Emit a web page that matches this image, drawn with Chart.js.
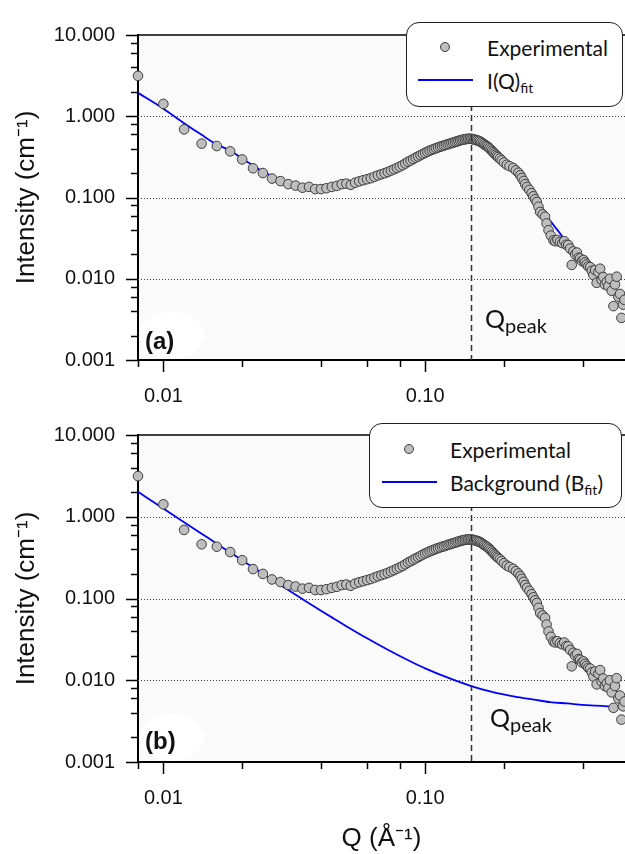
<!DOCTYPE html>
<html>
<head>
<meta charset="utf-8">
<script src="https://cdn.jsdelivr.net/npm/chart.js@4.4.0/dist/chart.umd.min.js"></script>
<style>
body{margin:0;background:#fff;}
#wrap{position:relative;width:625px;height:854px;overflow:hidden;}
canvas{position:absolute;left:0;}
.leg{position:absolute;box-sizing:border-box;border:1.5px solid #1e1e1e;border-radius:13px;background:#fff;font-family:Lato,sans-serif;font-size:21px;color:#111;}
.leg .dot{position:absolute;width:10px;height:10px;box-sizing:border-box;border-radius:50%;background:#bebebe;border:1px solid #3c3c3c;}
.leg .ln{position:absolute;height:2px;margin-top:-1px;background:#0000ff;}
.leg .txt{position:absolute;line-height:1;transform:translateY(-50%);white-space:nowrap;}
.leg sub{font-size:14px;vertical-align:-4px;line-height:0;}
.qp{position:absolute;font-family:Lato,sans-serif;font-size:25px;line-height:1;color:#111;white-space:nowrap;}
.qp sub{font-size:20px;vertical-align:-5px;line-height:0;}
.plab{position:absolute;font-family:'Liberation Sans',Arial,sans-serif;font-weight:bold;font-size:24px;line-height:1;color:#111;}
.blob{position:absolute;background:#fff;border-radius:50%;}
</style>
</head>
<body>
<div id="wrap">
  <canvas id="chartA" width="625" height="420" style="top:0"></canvas>
  <canvas id="chartB" width="625" height="454" style="top:400px"></canvas>

  <div class="blob" style="left:140px;top:312px;width:64px;height:47px"></div>
  <div class="plab" style="left:145px;top:329px">(a)</div>
  <div class="qp" style="left:485px;top:306px">Q<sub>peak</sub></div>
  <div class="leg" style="left:406px;top:22px;width:217px;height:85px">
    <span class="dot" style="left:33px;top:19px"></span>
    <span class="txt" style="left:80px;top:24px">Experimental</span>
    <span class="ln" style="left:11px;top:57px;width:55px"></span>
    <span class="txt" style="left:80px;top:57px">I(Q)<sub>fit</sub></span>
  </div>

  <div class="blob" style="left:140px;top:714px;width:64px;height:47px"></div>
  <div class="plab" style="left:145px;top:729px">(b)</div>
  <div class="qp" style="left:490px;top:705px">Q<sub>peak</sub></div>
  <div class="leg" style="left:369px;top:423px;width:253px;height:85px">
    <span class="dot" style="left:34px;top:20px"></span>
    <span class="txt" style="left:80px;top:25px">Experimental</span>
    <span class="ln" style="left:12px;top:58px;width:55px"></span>
    <span class="txt" style="left:80px;top:58px">Background (B<sub>fit</sub>)</span>
  </div>
</div>
<script>
// experimental SAXS points (same in both panels)
const qExp = [
  0.008, 0.010, 0.012, 0.014, 0.016, 0.018, 0.020, 0.022, 0.024, 0.026,
  0.028, 0.030, 0.032, 0.034, 0.036, 0.038, 0.040, 0.042, 0.044, 0.046,
  0.048, 0.050, 0.052, 0.054, 0.056, 0.058, 0.060, 0.062, 0.064, 0.066,
  0.068, 0.070, 0.072, 0.074, 0.076, 0.078, 0.080, 0.082, 0.084, 0.086,
  0.088, 0.090, 0.092, 0.094, 0.096, 0.098, 0.100, 0.102, 0.104, 0.106,
  0.108, 0.110, 0.112, 0.114, 0.116, 0.118, 0.120, 0.122, 0.124, 0.126,
  0.128, 0.130, 0.132, 0.134, 0.136, 0.138, 0.140, 0.142, 0.144, 0.146,
  0.148, 0.150, 0.152, 0.154, 0.156, 0.158, 0.160, 0.162, 0.164, 0.166,
  0.168, 0.170, 0.172, 0.174, 0.176, 0.178, 0.180, 0.182, 0.184, 0.186,
  0.188, 0.190, 0.193, 0.196, 0.200, 0.205, 0.210, 0.217, 0.222, 0.227,
  0.231, 0.234, 0.238, 0.241, 0.245, 0.250, 0.255, 0.259, 0.263, 0.267,
  0.271, 0.275, 0.281, 0.287, 0.291, 0.296, 0.302, 0.309, 0.314, 0.320,
  0.327, 0.334, 0.340, 0.346, 0.352, 0.358, 0.363, 0.368, 0.374, 0.380,
  0.386, 0.391, 0.397, 0.403, 0.408, 0.414, 0.420, 0.427, 0.433, 0.439,
  0.446, 0.452, 0.459, 0.466, 0.472, 0.479, 0.486, 0.494, 0.501, 0.508,
  0.516, 0.524, 0.531, 0.539, 0.547, 0.555, 0.562, 0.570, 0.577
];
const iExp = [
  3.14, 1.42, 0.69, 0.46, 0.43, 0.37, 0.294, 0.229, 0.200, 0.171,
  0.159, 0.146, 0.140, 0.132, 0.135, 0.127, 0.127, 0.130, 0.135, 0.139,
  0.146, 0.148, 0.143, 0.152, 0.158, 0.163, 0.168, 0.173, 0.180, 0.187,
  0.193, 0.199, 0.206, 0.214, 0.222, 0.231, 0.240, 0.250, 0.262, 0.275,
  0.285, 0.297, 0.309, 0.320, 0.332, 0.344, 0.355, 0.366, 0.377, 0.386,
  0.395, 0.404, 0.413, 0.421, 0.429, 0.436, 0.444, 0.452, 0.459, 0.467,
  0.474, 0.482, 0.489, 0.497, 0.505, 0.511, 0.517, 0.521, 0.525, 0.527,
  0.528, 0.527, 0.523, 0.517, 0.511, 0.505, 0.498, 0.490, 0.478, 0.465,
  0.452, 0.440, 0.430, 0.418, 0.404, 0.390, 0.375, 0.361, 0.348, 0.336,
  0.325, 0.314, 0.302, 0.287, 0.270, 0.253, 0.243, 0.231, 0.216, 0.202,
  0.188, 0.174, 0.160, 0.146, 0.135, 0.124, 0.113, 0.1035, 0.095, 0.088,
  0.077, 0.0664, 0.062, 0.058, 0.048, 0.0395, 0.034, 0.0297, 0.0290, 0.0300,
  0.0284, 0.0275, 0.0290, 0.0262, 0.026, 0.0235, 0.0148, 0.0217, 0.0200, 0.0210,
  0.0182, 0.0178, 0.0165, 0.0170, 0.0159, 0.0150, 0.0142, 0.0139, 0.0125, 0.0111,
  0.0128, 0.0089, 0.0120, 0.0133, 0.0097, 0.0105, 0.0085, 0.0092, 0.0081, 0.0100,
  0.0071, 0.0046, 0.0085, 0.0106, 0.0060, 0.0065, 0.0033, 0.0048, 0.0055
];

// I(Q) fit, panel (a)
const qFit = [0.008, 0.010, 0.012, 0.014, 0.016, 0.018, 0.020, 0.022, 0.025, 0.028,
  0.032, 0.036, 0.040, 0.045, 0.050, 0.055, 0.060, 0.070, 0.080, 0.090,
  0.100, 0.110, 0.120, 0.130, 0.140, 0.150, 0.160, 0.170, 0.180, 0.190,
  0.200, 0.220, 0.240, 0.260, 0.280, 0.300, 0.330, 0.360, 0.400, 0.450,
  0.500, 0.550, 0.580];
const iFit = [1.94, 1.24, 0.82, 0.59, 0.45, 0.378, 0.30, 0.248, 0.194, 0.165,
  0.143, 0.132, 0.128, 0.133, 0.143, 0.155, 0.168, 0.199, 0.240, 0.297,
  0.355, 0.404, 0.444, 0.482, 0.517, 0.525, 0.495, 0.440, 0.375, 0.314,
  0.265, 0.205, 0.150, 0.100, 0.072, 0.052, 0.035, 0.023, 0.0155, 0.0105,
  0.0078, 0.0060, 0.0054];

// background fit, panel (b)
const qBg = [0.008, 0.010, 0.012, 0.014, 0.016, 0.018, 0.020, 0.022, 0.025, 0.030,
  0.035, 0.040, 0.045, 0.050, 0.060, 0.070, 0.080, 0.090, 0.100, 0.120,
  0.150, 0.180, 0.220, 0.260, 0.300, 0.350, 0.400, 0.450, 0.500, 0.580];
const iBg = [2.02, 1.26, 0.857, 0.62, 0.468, 0.366, 0.293, 0.240, 0.184, 0.127,
  0.0927, 0.0709, 0.0563, 0.0459, 0.0326, 0.0248, 0.0198, 0.0164, 0.0140, 0.0110,
  0.0085, 0.0072, 0.0063, 0.0058, 0.0054, 0.0052, 0.0050, 0.0049, 0.0048, 0.0047];

const xTicks = [0.008, 0.01, 0.02, 0.04, 0.06, 0.08, 0.1, 0.2, 0.4];
const xLabelTicks = [0.01, 0.1];
const xTickLabels = ['0.01', '0.10'];
const yTicks = [0.001, 0.002, 0.004, 0.006, 0.008, 0.01, 0.02, 0.04, 0.06, 0.08,
  0.1, 0.2, 0.4, 0.6, 0.8, 1, 2, 4, 6, 8, 10];
const yLabelTicks = [0.001, 0.01, 0.1, 1, 10];
const yTickLabels = ['0.001', '0.010', '0.100', '1.000', '10.000'];
const yGrid = [0.01, 0.1, 1];
const qPeak = 0.15;

const axisFont = "'Liberation Sans', Arial, sans-serif";

const toXY = (xs, ys) => xs.map((x, i) => ({ x: x, y: ys[i] }));

const panelDecor = {
  id: 'panelDecor',
  beforeDraw(chart) {
    const { ctx, chartArea: a } = chart;
    ctx.save();
    ctx.fillStyle = '#fafafa';
    ctx.fillRect(a.left, a.top, a.right - a.left, a.bottom - a.top);
    ctx.restore();
  },
  beforeDatasetsDraw(chart) {
    const { ctx, chartArea: a, scales } = chart;
    const x = scales.x, y = scales.y;
    ctx.save();
    // dotted grid lines
    ctx.strokeStyle = '#444';
    ctx.lineWidth = 1;
    ctx.setLineDash([1, 2]);
    yGrid.forEach((v) => {
      const py = Math.round(y.getPixelForValue(v)) + 0.5;
      ctx.beginPath();
      ctx.moveTo(a.left, py);
      ctx.lineTo(a.right, py);
      ctx.stroke();
    });
    ctx.setLineDash([]);
    // top frame line
    ctx.strokeStyle = '#000';
    ctx.lineWidth = 1.5;
    ctx.beginPath();
    ctx.moveTo(a.left, a.top);
    ctx.lineTo(a.right, a.top);
    ctx.stroke();
    // tick marks, pointing out
    ctx.lineWidth = 1.5;
    yTicks.forEach((v) => {
      const py = Math.round(y.getPixelForValue(v)) + 0.5;
      const len = yLabelTicks.includes(v) ? 12 : 7;
      ctx.beginPath();
      ctx.moveTo(a.left - len, py);
      ctx.lineTo(a.left, py);
      ctx.stroke();
    });
    xTicks.forEach((v) => {
      const px = Math.round(x.getPixelForValue(v)) + 0.5;
      const len = xLabelTicks.includes(v) ? 12 : 7;
      ctx.beginPath();
      ctx.moveTo(px, a.bottom);
      ctx.lineTo(px, a.bottom + len);
      ctx.stroke();
    });
    ctx.restore();
  },
  afterDatasetsDraw(chart) {
    const { ctx, chartArea: a, scales } = chart;
    const px = Math.round(scales.x.getPixelForValue(qPeak)) + 0.5;
    ctx.save();
    ctx.strokeStyle = '#333';
    ctx.lineWidth = 1.5;
    ctx.setLineDash([6, 4]);
    ctx.beginPath();
    ctx.moveTo(px, a.top);
    ctx.lineTo(px, a.bottom);
    ctx.stroke();
    ctx.restore();
  }
};

const makePanel = (id, lineQ, lineI, padTop, xHeight, showXTitle) => {
  const ctx = document.getElementById(id);
  return new Chart(ctx, {
    type: 'scatter',
    data: {
      datasets: [
        {
          data: toXY(qExp, iExp),
          pointRadius: 4.8,
          pointBackgroundColor: '#bebebe',
          pointBorderColor: '#3c3c3c',
          pointBorderWidth: 1,
          clip: false,
        },
        {
          data: toXY(lineQ, lineI),
          showLine: true,
          pointRadius: 0,
          borderColor: '#0000ff',
          borderWidth: 1.8,
          cubicInterpolationMode: 'monotone',
        },
      ],
    },
    options: {
      responsive: false,
      animation: false,
      events: [],
      layout: { autoPadding: false, padding: { top: padTop, left: 0, right: 0, bottom: 0 } },
      plugins: { legend: { display: false }, tooltip: { enabled: false } },
      scales: {
        x: {
          type: 'logarithmic',
          position: 'bottom',
          min: 0.008,
          max: 0.58,
          afterBuildTicks: (s) => { s.ticks = xTicks.map((v) => ({ value: v })); },
          afterFit: (s) => { s.height = xHeight; s.paddingLeft = 0; s.paddingRight = 0; },
          grid: { display: false, drawTicks: false },
          border: { display: true, color: '#000', width: 2 },
          ticks: {
            autoSkip: false,
            maxRotation: 0,
            padding: 24,
            color: '#111',
            font: { family: axisFont, size: 20 },
            callback: (v) => {
              const k = xLabelTicks.indexOf(v);
              return k >= 0 ? xTickLabels[k] : '';
            },
          },
          title: {
            display: showXTitle,
            text: 'Q (Å⁻¹)',
            color: '#111',
            font: { family: axisFont, size: 26 },
            padding: { top: 0, bottom: 0 },
          },
        },
        y: {
          type: 'logarithmic',
          min: 0.001,
          max: 10,
          afterBuildTicks: (s) => { s.ticks = yTicks.map((v) => ({ value: v })); },
          afterFit: (s) => { s.width = 138; },
          grid: { display: false, drawTicks: false },
          border: { display: true, color: '#000', width: 2 },
          ticks: {
            autoSkip: false,
            padding: 23,
            color: '#111',
            font: { family: axisFont, size: 20 },
            callback: (v) => {
              const k = yLabelTicks.indexOf(v);
              return k >= 0 ? yTickLabels[k] : '';
            },
          },
          title: {
            display: true,
            text: 'Intensity (cm⁻¹)',
            color: '#111',
            font: { family: axisFont, size: 26 },
            padding: { top: 11, bottom: 0 },
          },
        },
      },
    },
    plugins: [panelDecor],
  });
};

makePanel('chartA', qFit, iFit, 16, 60, false);
makePanel('chartB', qBg, iBg, 18, 92, true);
</script>
</body>
</html>
